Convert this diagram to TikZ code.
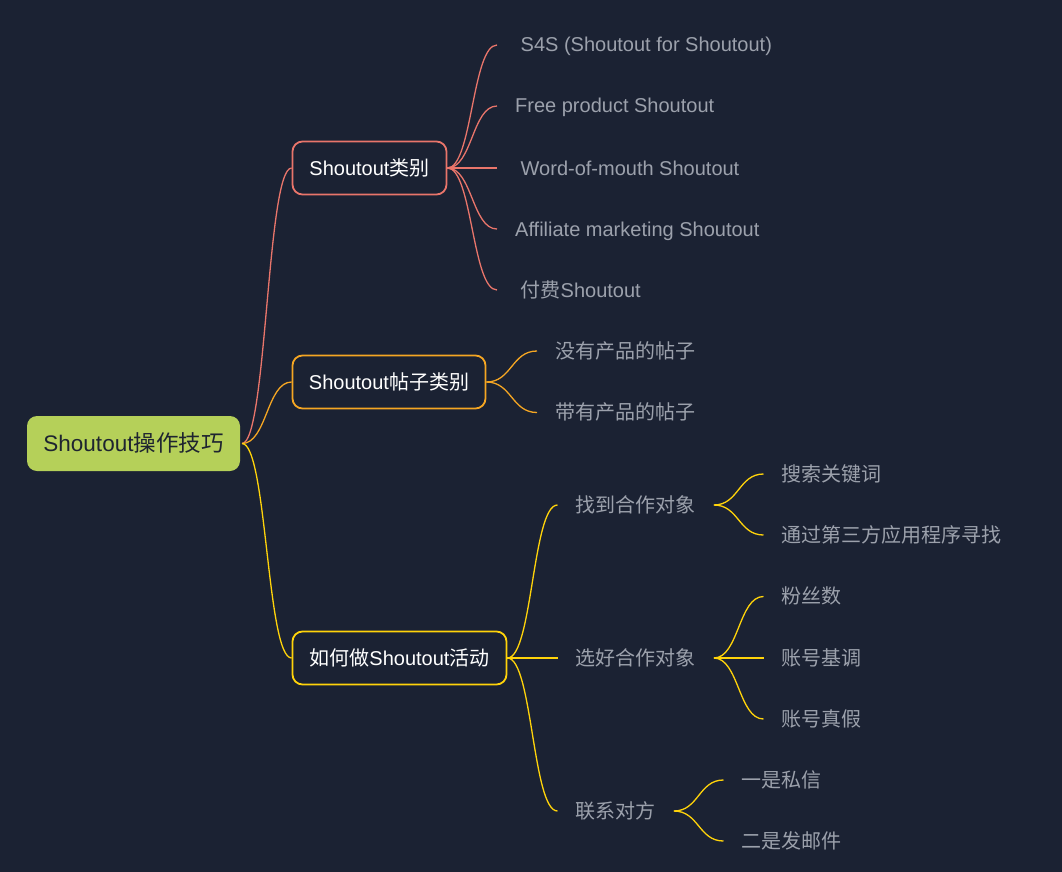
\documentclass[tikz,border=0pt]{standalone}
\usepackage{fontspec}
\setmainfont{Liberation Sans}
\newfontfamily\cjk{Noto Sans CJK SC}
\usetikzlibrary{calc}
\definecolor{bgc}{HTML}{1B2233}
\definecolor{rootc}{HTML}{B5D059}
\definecolor{rootink}{HTML}{1E2430}
\definecolor{leafink}{HTML}{9CA1AC}
\definecolor{redc}{HTML}{E9756B}
\definecolor{orangec}{HTML}{F5A623}
\definecolor{yellowc}{HTML}{FFD30A}
\tikzset{
  rootbox/.style={fill=rootc,rounded corners=10pt,text=rootink,inner sep=0pt,font=\fontsize{22.5}{26}\selectfont,text height=20pt,text depth=5pt},
  mainbox/.style={draw=#1,line width=1.8pt,fill=bgc,rounded corners=10pt,text=white,inner sep=0pt,minimum height=53pt,font=\fontsize{20}{24}\selectfont,text height=18pt,text depth=4pt},
  leaf/.style={anchor=west,text=leafink,inner ysep=0pt,inner xsep=#1,font=\fontsize{20}{24}\selectfont,text height=18pt,text depth=4pt},
  leaf/.default=18pt,
  link/.style={draw=#1,line width=1.3pt,to path={let \p1=(\tikztostart),\p2=(\tikztotarget),\n1={0.5*\x1+0.5*\x2} in .. controls (\n1,\y1) and (\n1,\y2) .. (\tikztotarget)}},
}
\begin{document}
\begin{tikzpicture}[x=1pt,y=-1pt]
\useasboundingbox (0,0) rectangle (1062,872);
\fill[bgc] (0,0) rectangle (1062,872);

% root and branches
\node[rootbox,minimum width=213pt,minimum height=55pt] (root) at (133.5,443.5) {Shoutout{\cjk 操作技巧}};
\node[mainbox=redc,minimum width=154pt] (a) at (369.5,168) {Shoutout{\cjk 类别}};
\node[mainbox=orangec,minimum width=193pt] (b) at (389,382) {Shoutout{\cjk 帖子类别}};
\node[mainbox=yellowc,minimum width=214pt] (c) at (399.5,658) {{\cjk 如何做}Shoutout{\cjk 活动}};
\coordinate (rootout) at (242,443.5);

% first group
\node[leaf=23.5pt] (a1) at (497,45) {S4S (Shoutout for Shoutout)};
\node[leaf=18pt] (a2) at (497,106) {Free product Shoutout};
\node[leaf=23.5pt] (a3) at (497,168) {Word-of-mouth Shoutout};
\node[leaf=18pt] (a4) at (497,229) {Affiliate marketing Shoutout};
\node[leaf=23.5pt] (a5) at (497,290) {\cjk 付费\rmfamily Shoutout};

% second group
\node[leaf] (b1) at (537,351) {\cjk 没有产品的帖子};
\node[leaf] (b2) at (537,412.5) {\cjk 带有产品的帖子};

% third group
\node[leaf] (c1) at (557.5,505) {\cjk 找到合作对象};
\node[leaf] (c2) at (557.5,658) {\cjk 选好合作对象};
\node[leaf] (c3) at (557.5,811) {\cjk 联系对方};
\node[leaf] (c11) at (763.5,474) {\cjk 搜索关键词};
\node[leaf] (c12) at (763.5,535) {\cjk 通过第三方应用程序寻找};
\node[leaf] (c21) at (763.5,596.5) {\cjk 粉丝数};
\node[leaf] (c22) at (763.5,658) {\cjk 账号基调};
\node[leaf] (c23) at (763.5,719) {\cjk 账号真假};
\node[leaf] (c31) at (723.5,780) {\cjk 一是私信};
\node[leaf] (c32) at (723.5,841) {\cjk 二是发邮件};

% connectors
\draw[link=redc] (rootout) to (a.west);
\draw[link=orangec] (rootout) to (b.west);
\draw[link=yellowc] (rootout) to (c.west);
\foreach \t in {a1,a2,a3,a4,a5} \draw[link=redc] (a.east) to (\t.west);
\foreach \t in {b1,b2} \draw[link=orangec] (b.east) to (\t.west);
\foreach \t in {c1,c2,c3} \draw[link=yellowc] (c.east) to (\t.west);
\foreach \t in {c11,c12} \draw[link=yellowc] (c1.east) to (\t.west);
\foreach \t in {c21,c22,c23} \draw[link=yellowc] (c2.east) to (\t.west);
\foreach \t in {c31,c32} \draw[link=yellowc] (c3.east) to (\t.west);
\end{tikzpicture}
\end{document}
